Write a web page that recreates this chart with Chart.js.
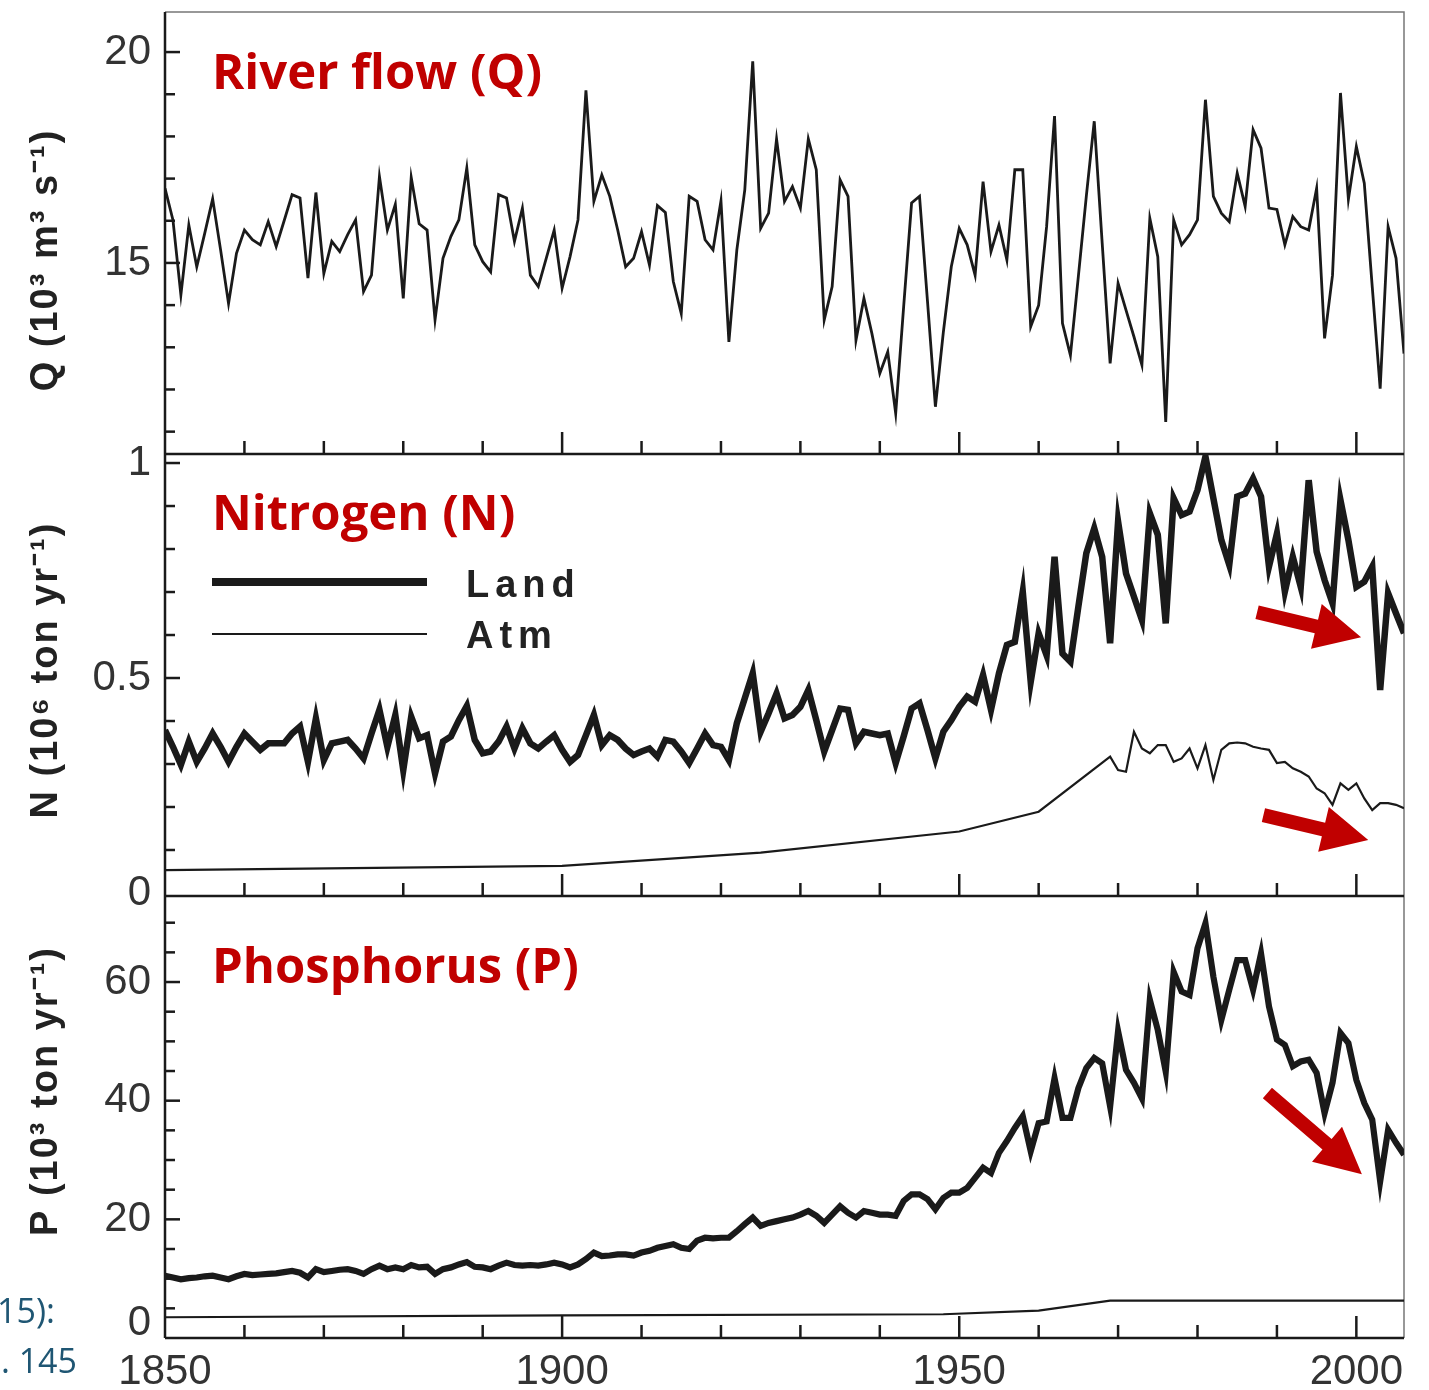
<!DOCTYPE html>
<html>
<head>
<meta charset="utf-8">
<script src="https://cdn.jsdelivr.net/npm/chart.js@4.4.0/dist/chart.umd.min.js"></script>
<style>
  body { margin: 0; background: #fff; }
  #wrap { position: relative; width: 1429px; height: 1390px; overflow: hidden; }
  #chart { position: absolute; left: 0; top: 0; }
  .cut { position: absolute; font-family: "Open Sans", sans-serif; font-size: 34px; color: #1f5673; line-height: 1; white-space: nowrap; }
</style>
</head>
<body>
<div id="wrap">
  <canvas id="chart" width="1429" height="1390"></canvas>
  <div class="cut" style="left:-3px; top:1293px;">15):</div>
  <div class="cut" style="right:1352px; top:1343px;">. 145</div>
</div>
<script>
// one value per year, starting here
const startYear = 1850;

// river flow Q (10^3 m3/s), 1850-2006
const flowQ = [
  16.77, 16.02, 14.24, 15.90, 14.91, 15.70, 16.52, 15.31, 14.04, 15.23,
  15.78, 15.55, 15.43, 15.98, 15.39, 16.00, 16.62, 16.54, 14.64, 16.67,
  14.75, 15.51, 15.27, 15.67, 16.02, 14.32, 14.71, 17.05, 15.78, 16.39,
  14.16, 17.03, 15.93, 15.78, 13.65, 15.11, 15.63, 16.02, 17.25, 15.43,
  15.03, 14.79, 16.62, 16.54, 15.51, 16.30, 14.71, 14.44, 15.11, 15.78,
  14.40, 15.15, 16.02, 19.09, 16.46, 17.09, 16.58, 15.78, 14.91, 15.11,
  15.74, 14.95, 16.36, 16.20, 14.56, 13.80, 16.58, 16.46, 15.55, 15.31,
  16.47, 13.13, 15.31, 16.73, 19.78, 15.82, 16.18, 17.94, 16.46, 16.81,
  16.30, 17.94, 17.21, 13.65, 14.44, 16.97, 16.58, 13.17, 14.16, 13.33,
  12.38, 12.89, 11.43, 13.96, 16.42, 16.58, 14.10, 11.59, 13.36, 14.91,
  15.82, 15.43, 14.71, 16.93, 15.27, 15.90, 15.07, 17.21, 17.21, 13.49,
  14.00, 15.86, 18.48, 13.57, 12.81, 14.68, 16.58, 18.36, 15.47, 12.62,
  14.52, 13.88, 13.25, 12.58, 16.06, 15.15, 11.23, 16.02, 15.43, 15.67,
  16.02, 18.87, 16.58, 16.18, 15.98, 17.13, 16.34, 18.16, 17.72, 16.30,
  16.27, 15.43, 16.10, 15.86, 15.78, 16.77, 13.21, 14.71, 19.03, 16.51,
  17.76, 16.89, 14.44, 12.02, 15.86, 15.11, 12.85
];

// nitrogen from land (10^6 ton/yr), 1850-2006
const nitrogenLand = [
  0.379, 0.340, 0.298, 0.352, 0.305, 0.336, 0.371, 0.340, 0.305, 0.340,
  0.371, 0.352, 0.333, 0.348, 0.348, 0.348, 0.371, 0.387, 0.305, 0.406,
  0.309, 0.348, 0.352, 0.356, 0.336, 0.313, 0.371, 0.426, 0.340, 0.414,
  0.286, 0.410, 0.360, 0.367, 0.278, 0.352, 0.364, 0.402, 0.435, 0.356,
  0.325, 0.329, 0.352, 0.387, 0.336, 0.383, 0.348, 0.336, 0.352, 0.367,
  0.333, 0.305, 0.321, 0.367, 0.414, 0.344, 0.367, 0.356, 0.336, 0.321,
  0.329, 0.336, 0.317, 0.356, 0.352, 0.329, 0.302, 0.336, 0.371, 0.344,
  0.340, 0.309, 0.395, 0.453, 0.511, 0.375, 0.418, 0.464, 0.406, 0.414,
  0.433, 0.472, 0.402, 0.329, 0.379, 0.429, 0.426, 0.348, 0.375, 0.371,
  0.367, 0.371, 0.302, 0.364, 0.429, 0.441, 0.379, 0.313, 0.375, 0.402,
  0.433, 0.457, 0.445, 0.507, 0.426, 0.511, 0.577, 0.584, 0.701, 0.491,
  0.604, 0.553, 0.782, 0.557, 0.538, 0.666, 0.790, 0.848, 0.782, 0.581,
  0.864, 0.743, 0.689, 0.635, 0.883, 0.833, 0.627, 0.918, 0.879, 0.887,
  0.937, 1.015, 0.918, 0.821, 0.763, 0.922, 0.929, 0.964, 0.922, 0.759,
  0.836, 0.701, 0.782, 0.712, 0.960, 0.794, 0.728, 0.674, 0.914, 0.821,
  0.712, 0.724, 0.759, 0.472, 0.697, 0.650, 0.604
];

// nitrogen from atmosphere: sparse before 1970
const atmYearsN = [1850, 1900, 1925, 1950, 1960, 1969,
  1970, 1971, 1972, 1973, 1974, 1975, 1976, 1977, 1978, 1979,
  1980, 1981, 1982, 1983, 1984, 1985, 1986, 1987, 1988, 1989,
  1990, 1991, 1992, 1993, 1994, 1995, 1996, 1997, 1998, 1999,
  2000, 2001, 2002, 2003, 2004, 2005, 2006];
const nitrogenAtm = [0.053, 0.063, 0.094, 0.143, 0.189, 0.317,
  0.286, 0.282, 0.375, 0.336, 0.325, 0.344, 0.344, 0.305, 0.313, 0.336,
  0.290, 0.344, 0.263, 0.333, 0.348, 0.350, 0.348, 0.340, 0.336, 0.333,
  0.302, 0.305, 0.290, 0.282, 0.271, 0.243, 0.232, 0.205, 0.255, 0.240,
  0.255, 0.220, 0.193, 0.209, 0.209, 0.205, 0.197];

// phosphorus from land (10^3 ton/yr), 1850-2006
const phosphorusLand = [
  10.5, 10.2, 9.9, 10.1, 10.2, 10.4, 10.5, 10.2, 9.9, 10.4,
  10.8, 10.6, 10.7, 10.8, 10.9, 11.1, 11.3, 11.0, 10.2, 11.6,
  11.1, 11.3, 11.5, 11.6, 11.3, 10.8, 11.6, 12.2, 11.6, 11.9,
  11.6, 12.3, 11.9, 12.0, 10.8, 11.6, 11.9, 12.4, 12.8, 12.0,
  11.9, 11.6, 12.2, 12.7, 12.3, 12.2, 12.3, 12.2, 12.4, 12.7,
  12.4, 11.9, 12.4, 13.3, 14.4, 13.8, 13.9, 14.1, 14.1, 13.9,
  14.4, 14.7, 15.2, 15.5, 15.8, 15.2, 15.0, 16.4, 16.9, 16.8,
  16.9, 16.9, 18.0, 19.2, 20.3, 18.9, 19.4, 19.7, 20.0, 20.3,
  20.8, 21.4, 20.6, 19.4, 20.8, 22.2, 21.1, 20.3, 21.4, 21.1,
  20.8, 20.8, 20.6, 23.1, 24.2, 24.2, 23.4, 21.7, 23.6, 24.5,
  24.5, 25.3, 27.0, 28.7, 27.8, 31.2, 33.2, 35.4, 37.4, 31.5,
  36.2, 36.5, 43.8, 37.1, 37.1, 42.1, 45.5, 47.2, 46.3, 39.0,
  51.7, 45.2, 43.0, 40.4, 57.0, 51.9, 44.9, 61.7, 58.4, 57.8,
  65.7, 69.9, 60.9, 53.6, 58.7, 63.7, 63.7, 58.7, 64.8, 55.9,
  50.3, 49.4, 45.8, 46.6, 46.9, 44.7, 37.9, 43.0, 51.4, 49.7,
  43.5, 39.6, 36.8, 26.4, 35.1, 32.9, 30.9
];

// phosphorus from atmosphere
const atmYearsP = [1850, 1900, 1948, 1960, 1969, 2006];
const phosphorusAtm = [3.5, 3.8, 4.0, 4.6, 6.3, 6.3];

// tick labels
const xTickYears = [1850, 1900, 1950, 2000];
const qTickLabels = [15, 20];
const nTickLabels = [0, 0.5, 1];
const pTickLabels = [0, 20, 40, 60];

// red arrows, [fromYear, fromValue, toYear, toValue]
const arrowsN = [[1987.5, 0.653, 2000.6, 0.595], [1988.3, 0.181, 2001.5, 0.123]];
const arrowsP = [[1988.8, 41.3, 2000.7, 27.6]];

function yearPoints(values) {
  return values.map((v, i) => ({x: startYear + i, y: v}));
}
function pairPoints(years, values) {
  return years.map((yr, i) => ({x: yr, y: values[i]}));
}

const sans = 'Liberation Sans, Arial, sans-serif';
const tickFont = {family: sans, size: 42};

function yAxis(min, max, step, labels, order, hideZero) {
  return {
    type: 'linear',
    position: 'left',
    stack: 'panels',
    stackWeight: 1,
    weight: order,
    min: min,
    max: max,
    grid: {display: false, drawTicks: false},
    border: {display: false},
    ticks: {
      stepSize: step,
      includeBounds: false,
      font: tickFont,
      color: '#333',
      padding: 14,
      callback: (v) => {
        if (hideZero && v === 0) return '';
        return labels.some(l => Math.abs(l - v) < 1e-9) ? String(v) : '';
      }
    },
    afterFit: (s) => { s.width = 165; s.paddingTop = 0; s.paddingBottom = 0; }
  };
}

function drawArrow(ctx, x1, y1, x2, y2) {
  const len = Math.hypot(x2 - x1, y2 - y1);
  const ux = (x2 - x1) / len, uy = (y2 - y1) / len;
  const nx = -uy, ny = ux;
  const head = 46, shaft = 7, wing = 23;
  const bx = x2 - ux * head, by = y2 - uy * head;
  ctx.beginPath();
  ctx.moveTo(x1 + nx * shaft, y1 + ny * shaft);
  ctx.lineTo(bx + nx * shaft, by + ny * shaft);
  ctx.lineTo(bx + nx * wing, by + ny * wing);
  ctx.lineTo(x2, y2);
  ctx.lineTo(bx - nx * wing, by - ny * wing);
  ctx.lineTo(bx - nx * shaft, by - ny * shaft);
  ctx.lineTo(x1 - nx * shaft, y1 - ny * shaft);
  ctx.closePath();
  ctx.fill();
}

// frame, inward ticks, axis titles
const framePlugin = {
  id: 'frame',
  beforeDatasetsDraw(chart) {
    const ctx = chart.ctx;
    const area = chart.chartArea;
    const x = chart.scales.x;
    const panels = [
      {s: chart.scales.yQ, from: 11, to: 20, step: 1, major: qTickLabels},
      {s: chart.scales.yN, from: 0.1, to: 1, step: 0.1, major: nTickLabels},
      {s: chart.scales.yP, from: 5, to: 70, step: 5, major: pTickLabels}
    ];
    ctx.save();
    ctx.strokeStyle = '#777';
    ctx.lineWidth = 1.5;
    ctx.beginPath();
    ctx.moveTo(area.left, area.top);
    ctx.lineTo(area.right, area.top);
    ctx.lineTo(area.right, area.bottom);
    ctx.stroke();

    ctx.strokeStyle = '#1a1a1a';
    ctx.lineWidth = 2.5;
    ctx.beginPath();
    ctx.moveTo(area.left, area.top);
    ctx.lineTo(area.left, area.bottom);
    ctx.stroke();

    panels.forEach(p => {
      const s = p.s;
      ctx.beginPath();
      ctx.moveTo(area.left, s.bottom);
      ctx.lineTo(area.right, s.bottom);
      ctx.stroke();
      for (let yr = 1860; yr <= 2000; yr += 10) {
        const px = x.getPixelForValue(yr);
        const len = yr % 50 === 0 ? 22 : 13;
        ctx.beginPath();
        ctx.moveTo(px, s.bottom);
        ctx.lineTo(px, s.bottom - len);
        ctx.stroke();
      }
      for (let i = 0; p.from + i * p.step <= p.to + 1e-9; i++) {
        const v = p.from + i * p.step;
        const py = s.getPixelForValue(v);
        const isMajor = p.major.some(m => Math.abs(m - v) < 1e-6);
        ctx.beginPath();
        ctx.moveTo(area.left, py);
        ctx.lineTo(area.left + (isMajor ? 15 : 10), py);
        ctx.stroke();
      }
    });

    // the P zero label sits just above the bottom axis
    ctx.fillStyle = '#333';
    ctx.font = '42px ' + sans;
    ctx.textAlign = 'right';
    ctx.textBaseline = 'middle';
    ctx.fillText('0', area.left - 14, chart.scales.yP.getPixelForValue(0) - 15);

    // rotated axis titles
    const titles = [
      {s: chart.scales.yQ, text: 'Q (10³ m³ s⁻¹)', shift: 27},
      {s: chart.scales.yN, text: 'N (10⁶ ton yr⁻¹)', shift: -5},
      {s: chart.scales.yP, text: 'P (10³ ton yr⁻¹)', shift: -26}
    ];
    ctx.fillStyle = '#222';
    ctx.font = 'bold 38px ' + sans;
    ctx.textAlign = 'center';
    ctx.letterSpacing = '2px';
    titles.forEach(t => {
      ctx.save();
      ctx.translate(47, (t.s.top + t.s.bottom) / 2 + t.shift);
      ctx.rotate(-Math.PI / 2);
      ctx.fillText(t.text, 0, 0);
      ctx.restore();
    });
    ctx.letterSpacing = '0px';
    ctx.restore();
  },
  afterDatasetsDraw(chart) {
    const ctx = chart.ctx;
    const area = chart.chartArea;
    const x = chart.scales.x;
    const yN = chart.scales.yN, yP = chart.scales.yP, yQ = chart.scales.yQ;
    ctx.save();

    // panel names
    ctx.fillStyle = '#c00000';
    ctx.font = 'bold 49px "Open Sans", sans-serif';
    ctx.textAlign = 'left';
    ctx.textBaseline = 'alphabetic';
    ctx.fillText('River flow (Q)', area.left + 47, yQ.top + 77);
    ctx.fillText('Nitrogen (N)', area.left + 47, yN.top + 76);
    ctx.fillText('Phosphorus (P)', area.left + 47, yP.top + 87);

    // legend inside the N panel
    const land = chart.data.datasets[1], atm = chart.data.datasets[2];
    ctx.strokeStyle = '#1a1a1a';
    ctx.lineCap = 'butt';
    ctx.lineWidth = land.borderWidth + 1.5;
    ctx.beginPath();
    ctx.moveTo(area.left + 47, yN.top + 128);
    ctx.lineTo(area.left + 262, yN.top + 128);
    ctx.stroke();
    ctx.lineWidth = atm.borderWidth;
    ctx.beginPath();
    ctx.moveTo(area.left + 47, yN.top + 180);
    ctx.lineTo(area.left + 262, yN.top + 180);
    ctx.stroke();
    ctx.fillStyle = '#222';
    ctx.font = 'bold 38px ' + sans;
    ctx.letterSpacing = '6px';
    ctx.fillText(land.label, area.left + 301, yN.top + 143);
    ctx.fillText(atm.label, area.left + 301, yN.top + 194);
    ctx.letterSpacing = '0px';

    // red arrows
    ctx.fillStyle = '#c00000';
    arrowsN.forEach(a => drawArrow(ctx, x.getPixelForValue(a[0]), yN.getPixelForValue(a[1]),
      x.getPixelForValue(a[2]), yN.getPixelForValue(a[3])));
    arrowsP.forEach(a => drawArrow(ctx, x.getPixelForValue(a[0]), yP.getPixelForValue(a[1]),
      x.getPixelForValue(a[2]), yP.getPixelForValue(a[3])));
    ctx.restore();
  }
};

const lineStyle = {pointRadius: 0, tension: 0, borderJoinStyle: 'miter', fill: false};

new Chart(document.getElementById('chart'), {
  type: 'line',
  data: {
    datasets: [
      {label: 'Q', data: yearPoints(flowQ), yAxisID: 'yQ', borderColor: '#1a1a1a', borderWidth: 2.8, ...lineStyle},
      {label: 'Land', data: yearPoints(nitrogenLand), yAxisID: 'yN', borderColor: '#1a1a1a', borderWidth: 6.5, ...lineStyle},
      {label: 'Atm', data: pairPoints(atmYearsN, nitrogenAtm), yAxisID: 'yN', borderColor: '#1a1a1a', borderWidth: 2.2, ...lineStyle},
      {label: 'P land', data: yearPoints(phosphorusLand), yAxisID: 'yP', borderColor: '#1a1a1a', borderWidth: 6.2, ...lineStyle},
      {label: 'P atm', data: pairPoints(atmYearsP, phosphorusAtm), yAxisID: 'yP', borderColor: '#1a1a1a', borderWidth: 2.2, ...lineStyle}
    ]
  },
  options: {
    responsive: false,
    animation: false,
    devicePixelRatio: 1,
    events: [],
    layout: {padding: {top: 12, right: 25, left: 0, bottom: 0}, autoPadding: false},
    plugins: {legend: {display: false}, tooltip: {enabled: false}},
    scales: {
      x: {
        type: 'linear',
        min: 1850,
        max: 2006,
        grid: {display: false, drawTicks: false},
        border: {display: false},
        ticks: {
          stepSize: 50,
          includeBounds: false,
          autoSkip: false,
          maxRotation: 0,
          font: tickFont,
          color: '#333',
          padding: 9,
          callback: (v) => xTickYears.includes(v) ? String(v) : ''
        },
        afterFit: (s) => { s.height = 52; }
      },
      yQ: yAxis(10.47, 20.95, 5, qTickLabels, 3, false),
      yN: yAxis(-0.007, 1.021, 0.5, nTickLabels, 2, false),
      yP: yAxis(0, 74.5, 20, pTickLabels, 1, true)
    }
  },
  plugins: [framePlugin]
});
</script>
</body>
</html>
